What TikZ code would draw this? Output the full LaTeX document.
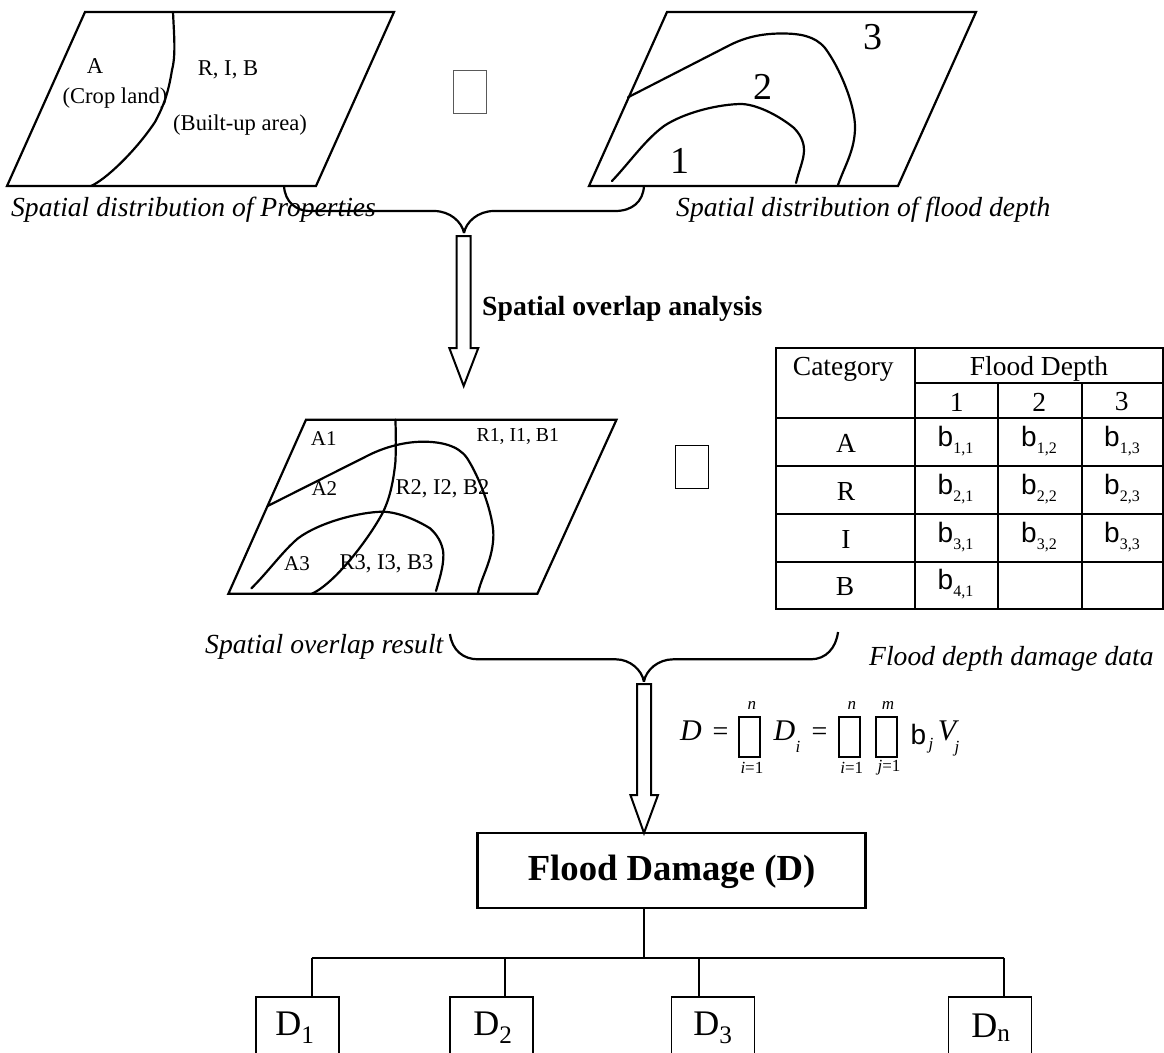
\documentclass[tikz,border=0pt]{standalone}
\usepackage{fontspec}
\setmainfont{Liberation Serif}
\newfontfamily\sansb{Liberation Sans}
\newcommand{\fsz}[1]{\fontsize{#1}{#1}\selectfont}
\newcommand{\bcell}[2]{{\sansb\fsz{28}b}\raisebox{-7pt}{\fsz{16}#2}}
\tikzset{
  heavy/.style={draw=black,line width=2.2pt,line join=miter},
  contour/.style={draw=black,line width=2.2pt,line cap=round},
  lab/.style={inner sep=0pt,font=\fsz{22.6}},
  overlaplab/.style={inner sep=0pt,font=\fsz{21}},
  overlapwide/.style={inner sep=0pt,font=\fsz{22.5}},
  caption/.style={inner sep=0pt,font=\fsz{27.6}\itshape},
  digit/.style={inner sep=0pt,font=\fsz{38}},
  tabtxt/.style={inner sep=0pt,font=\fsz{27.5}},
  cellb/.style={inner sep=0pt,anchor=west},
  hollow/.style={draw=black,line width=2pt,fill=white,line join=miter},
  opbox/.style={draw=#1,line width=1.2pt,fill=white,inner sep=0pt},
  sumbox/.style={draw=black,line width=2.2pt,inner sep=0pt,minimum width=21pt,minimum height=40pt},
  dbox/.style={draw=black,line width=1.8pt,inner sep=0pt,minimum width=83pt,minimum height=80pt,anchor=north},
  dtxt/.style={inner sep=0pt,font=\fsz{36}},
  fmi/.style={inner sep=0pt,font=\fsz{30}\itshape},
  fsub/.style={inner sep=0pt,font=\fsz{17}\itshape},
  tree/.style={draw=black,line width=1.8pt},
  tabline/.style={draw=black,line width=2.2pt},
}
\begin{document}
\begin{tikzpicture}[x=1pt,y=-1pt]
\clip (0,0) rectangle (1164,1052);
\fill[white] (0,0) rectangle (1164,1052);

% --- top left map
\draw[heavy] (85,12) -- (394,12) -- (316,186) -- (7,186) -- cycle;
\draw[contour] (173,12) .. controls (174,35) and (176,55) .. (172,70)
  .. controls (168,95) and (163,107) .. (155,122)
  .. controls (135,152) and (105,180) .. (91,186);
\node[lab] (la) at (95,66) {A};
\node[lab] (lb) at (115,98) {(Crop land)};
\node[lab] (lc) at (228,70) {R, I, B};
\node[lab] (ld) at (240,125) {(Built-up area)};
\node[opbox=black!65,minimum width=33pt,minimum height=43pt] (op1) at (470,92) {};

% --- top right map
\draw[heavy] (667,12) -- (976,12) -- (898,186) -- (589,186) -- cycle;
\draw[contour] (628,97.3) -- (730,45) .. controls (748,36) and (765,33.5) .. (782,33.5)
  .. controls (800,33.5) and (815,36) .. (825,48)
  .. controls (840,68) and (855,105) .. (855,127)
  .. controls (855,150) and (845,165) .. (838,185);
\draw[contour] (612,181) .. controls (630,162) and (645,140) .. (664,126)
  .. controls (685,112) and (720,104) .. (742,104)
  .. controls (760,105) and (782,118) .. (794,128)
  .. controls (803,137) and (804,146) .. (804,150)
  .. controls (804,160) and (799,170) .. (796,183);
\node[digit] (d3) at (873,37) {3};
\node[digit] (d2) at (763,87) {2};
\node[digit] (d1) at (680,161) {1};

% --- captions
\node[caption,anchor=west] (cap1) at (11,210) {Spatial distribution of Properties};
\node[caption,anchor=west] (cap2) at (676,210) {Spatial distribution of flood depth};

% --- first brace
\coordinate (b1l) at (284,186);
\coordinate (b1m) at (464,233);
\coordinate (b1r) at (644,186);
\draw[heavy] (b1l) .. controls (285,202) and (296,211) .. (310,211) -- (434,211)
  .. controls (450,211) and (462,222) .. (b1m);
\draw[heavy] (b1r) .. controls (643,202) and (632,211) .. (615,211) -- (494,211)
  .. controls (478,211) and (466,222) .. (b1m);

% --- first hollow arrow
\draw[hollow] (456.7,236) -- (470.7,236) -- (470.7,348) -- (478.3,348) -- (463.7,386) -- (449.3,348) -- (456.7,348) -- cycle;
\node[inner sep=0pt,font=\fsz{27.7}\bfseries,anchor=west] (ov) at (482,309) {Spatial overlap analysis};

% --- overlap map
\draw[heavy] (306,419.7) -- (616.5,419.7) -- (537.4,593.7) -- (228.4,593.7) -- cycle;
\draw[contour] (395.4,419.7) .. controls (396,435) and (396,450) .. (395.4,462)
  .. controls (393,485) and (389,500) .. (382.6,513)
  .. controls (368,540) and (335,583) .. (312,593.7);
\draw[contour] (267.6,506) -- (369,455) .. controls (385,447) and (405,441.7) .. (423,441.7)
  .. controls (440,441.7) and (458,445) .. (467,458)
  .. controls (480,478) and (493.4,515) .. (493.4,535)
  .. controls (493,560) and (482,575) .. (477.9,593.3);
\draw[contour] (251.4,588.3) .. controls (268,572) and (282,552) .. (298,538.3)
  .. controls (320,522) and (360,512) .. (382.6,511.7)
  .. controls (400,512) and (420,522) .. (430,528.3)
  .. controls (440,537) and (443.4,548) .. (443.4,555)
  .. controls (443.4,568) and (439,580) .. (436,591);
\node[overlaplab] (a1) at (323.7,439) {A1};
\node[overlaplab,font=\fsz{19.8}] (r1) at (517.8,436) {R1, I1, B1};
\node[overlaplab] (a2) at (324.4,488.5) {A2};
\node[overlapwide] (r2) at (442.4,488.5) {R2, I2, B2};
\node[overlaplab] (a3) at (297,563.5) {A3};
\node[overlapwide] (r3) at (386.6,563.5) {R3, I3, B3};
\node[opbox=black,minimum width=33pt,minimum height=43pt] (op2) at (691.8,466.8) {};

% --- table
\draw[tabline] (775.7,348) rectangle (1163.3,609.3);
\foreach \yy in {417.7,466,513.7,561.7} \draw[tabline] (775.7,\yy) -- (1163.3,\yy);
\draw[tabline] (915,382.7) -- (1163.3,382.7);
\draw[tabline] (915,348) -- (915,609.3);
\draw[tabline] (998,382.7) -- (998,609.3);
\draw[tabline] (1082,382.7) -- (1082,609.3);
\node[tabtxt] (tc) at (843.3,369) {Category};
\node[tabtxt] (tf) at (1039,368.5) {Flood Depth};
\node[tabtxt] (t1) at (956.7,402) {1};
\node[tabtxt] (t2) at (1039.3,402) {2};
\node[tabtxt] (t3) at (1121.7,402) {3};
\node[tabtxt] (ta) at (846,443.5) {A};
\node[tabtxt] (tr) at (846,491.5) {R};
\node[tabtxt] (ti) at (846,539.5) {I};
\node[tabtxt] (tb) at (845,587) {B};
\node[cellb] (c11) at (937.5,441) {\bcell{}{1,1}};
\node[cellb] (c12) at (1021,441) {\bcell{}{1,2}};
\node[cellb] (c13) at (1104,441) {\bcell{}{1,3}};
\node[cellb] (c21) at (937.5,489) {\bcell{}{2,1}};
\node[cellb] (c22) at (1021,489) {\bcell{}{2,2}};
\node[cellb] (c23) at (1104,489) {\bcell{}{2,3}};
\node[cellb] (c31) at (937.5,537) {\bcell{}{3,1}};
\node[cellb] (c32) at (1021,537) {\bcell{}{3,2}};
\node[cellb] (c33) at (1104,537) {\bcell{}{3,3}};
\node[cellb] (c41) at (937.5,584) {\bcell{}{4,1}};

% --- second captions
\node[caption,anchor=west] (cap3) at (205,647) {Spatial overlap result};
\node[caption,anchor=west] (cap4) at (869,658.7) {Flood depth damage data};

% --- second brace
\coordinate (b2l) at (450,634);
\coordinate (b2m) at (643.9,681.7);
\coordinate (b2r) at (838,632);
\draw[heavy] (b2l) .. controls (452,650) and (463,659.3) .. (478,659.3) -- (615.8,659.3)
  .. controls (630,659.3) and (642,670) .. (b2m);
\draw[heavy] (b2r) .. controls (836,648) and (826,659.3) .. (810.8,659.3) -- (673.3,659.3)
  .. controls (658,659.3) and (646,670) .. (b2m);

% --- second hollow arrow
\draw[hollow] (637,684) -- (651,684) -- (651,795) -- (658,795) -- (644,833) -- (630.4,795) -- (637,795) -- cycle;

% --- formula
\node[fmi] (fd) at (691,731) {D};
\node[inner sep=0pt,font=\fsz{28}] (fe1) at (720.6,734) {=};
\node[sumbox] (s1) at (749.6,736.7) {};
\node[fsub] (s1t) at (751.9,705) {n};
\node[inner sep=0pt,font=\fsz{17}] (s1b) at (751.9,768) {\textit{i}=1};
\node[fmi] (fdi) at (784.5,731) {D};
\node[fsub] (fdis) at (798,747) {i};
\node[inner sep=0pt,font=\fsz{28}] (fe2) at (819.5,734) {=};
\node[sumbox] (s2) at (849.6,736.7) {};
\node[fsub] (s2t) at (851.8,705) {n};
\node[inner sep=0pt,font=\fsz{17}] (s2b) at (851.8,768) {\textit{i}=1};
\node[sumbox] (s3) at (886.6,736.7) {};
\node[fsub] (s3t) at (888,705) {m};
\node[inner sep=0pt,font=\fsz{17}] (s3b) at (889,768) {\textit{j}=1};
\node[inner sep=0pt,font=\sansb\fsz{28}] (fb) at (918.4,734) {b};
\node[fsub] (fbs) at (931,746) {j};
\node[fmi] (fv) at (947,731) {V};
\node[fsub] (fvs) at (957,749) {j};

% --- flood damage tree
\node[draw=black,line width=2.2pt,inner sep=0pt,minimum width=388pt,minimum height=75pt,text depth=0pt] (fdmg) at (671.5,870.8) {};
\node[inner sep=0pt,font=\fsz{36.7}\bfseries] (fdmgt) at (671.5,871.5) {Flood Damage (D)};
\coordinate (hub) at (643.7,957.7);
\node[dbox] (D1) at (297.7,996) {};
\node[dbox] (D2) at (491.3,996) {};
\node[dbox] (D3) at (713,996) {};
\node[dbox] (Dn) at (990,996) {};
\node[dtxt] (D1t) at (295,1028) {D\textsubscript{1}};
\node[dtxt] (D2t) at (493,1028) {D\textsubscript{2}};
\node[dtxt] (D3t) at (713,1028) {D\textsubscript{3}};
\node[dtxt] (Dnt) at (991,1028) {D\textsubscript{n}};
\draw[tree] (fdmg.south -| hub) -- (hub);
\coordinate (j1) at (311.6,957.7);
\coordinate (j2) at (505,957.7);
\coordinate (j3) at (698.8,957.7);
\coordinate (j4) at (1003.6,957.7);
\draw[tree,line width=2.2pt] (j1) -- (j4);
\draw[tree] (j1) -- (j1 |- D1.north);
\draw[tree] (j2) -- (j2 |- D2.north);
\draw[tree] (j3) -- (j3 |- D3.north);
\draw[tree] (j4) -- (j4 |- Dn.north);
\end{tikzpicture}
\end{document}
